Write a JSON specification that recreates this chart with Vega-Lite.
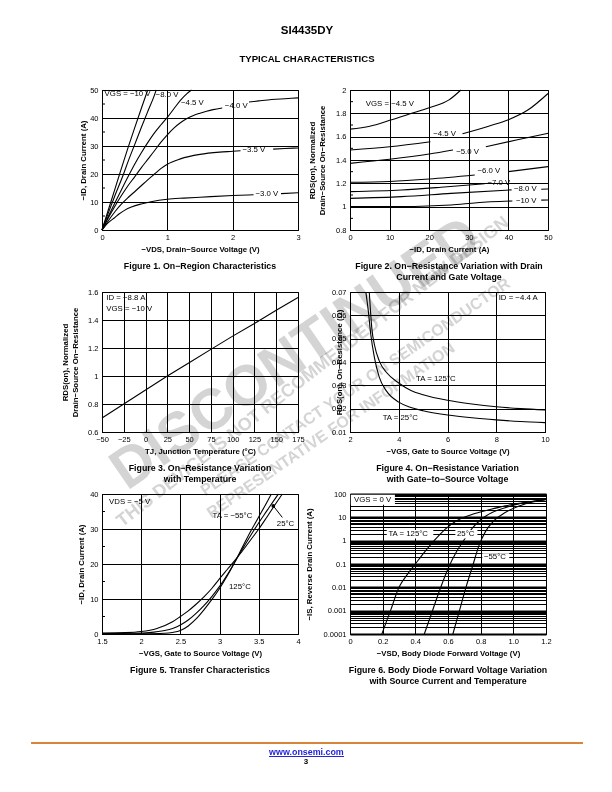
{
"$schema":"https://vega.github.io/schema/vega-lite/v6.json",
"autosize":{"type":"pad"},
"padding":{"left":30,"top":25,"right":0,"bottom":0},
"background":"white",
"title":{"text":"SI4435DY","subtitle":"TYPICAL CHARACTERISTICS","font":"Liberation Sans","fontSize":11.5,"fontWeight":"bold","subtitleFont":"Liberation Sans","subtitleFontSize":9.6,"subtitleFontWeight":"bold","subtitlePadding":17,"anchor":"middle","offset":22,"color":"black","subtitleColor":"black"},
"config":{
 "font":"Liberation Sans",
 "view":{"stroke":"black","strokeWidth":1},
 "axis":{"grid":true,"gridColor":"black","gridOpacity":1,"gridWidth":1,"domain":true,"domainColor":"black","domainWidth":1,"ticks":false,"labelFont":"Liberation Sans","labelFontSize":7.5,"labelColor":"black","labelFlush":false,"labelOverlap":false,"titleFont":"Liberation Sans","titleFontSize":7.8,"titleFontWeight":"bold","titleColor":"black","titleLineHeight":10,"labelExpr":"replace(datum.value + '', '-', '−')"},
 "axisX":{"labelPadding":3,"titlePadding":5,"labelOverlap":false},
 "axisY":{"labelPadding":4,"titlePadding":3,"labelOverlap":false},
 "title":{"font":"Liberation Sans","fontSize":8.8,"fontWeight":"bold","color":"black","lineHeight":11},
 "line":{"color":"black","strokeWidth":1.1,"interpolate":"monotone"},
 "rule":{"color":"black","strokeWidth":1},
 "text":{"font":"Liberation Sans","fontSize":7.8,"color":"black"}
},
"datasets":{
 "f1":[
  {"s":"10","x":0,"y":0},{"s":"10","x":0.1,"y":7.4},{"s":"10","x":0.2,"y":14.8},{"s":"10","x":0.27,"y":20},{"s":"10","x":0.4,"y":29.5},{"s":"10","x":0.5,"y":36.5},{"s":"10","x":0.6,"y":43.3},{"s":"10","x":0.7,"y":50},
  {"s":"8","x":0,"y":0},{"s":"8","x":0.1,"y":6.3},{"s":"8","x":0.2,"y":12.4},{"s":"8","x":0.33,"y":20},{"s":"8","x":0.4,"y":24.5},{"s":"8","x":0.5,"y":30.5},{"s":"8","x":0.6,"y":36.5},{"s":"8","x":0.7,"y":42.3},{"s":"8","x":0.8,"y":48},{"s":"8","x":0.83,"y":50},
  {"s":"4.5","x":0,"y":0},{"s":"4.5","x":0.1,"y":5},{"s":"4.5","x":0.2,"y":9.8},{"s":"4.5","x":0.3,"y":14.5},{"s":"4.5","x":0.42,"y":20},{"s":"4.5","x":0.5,"y":23.5},{"s":"4.5","x":0.6,"y":27.5},{"s":"4.5","x":0.7,"y":31.2},{"s":"4.5","x":0.8,"y":34.6},{"s":"4.5","x":0.9,"y":37.5},{"s":"4.5","x":1.0,"y":40.2},{"s":"4.5","x":1.1,"y":43.3},{"s":"4.5","x":1.2,"y":46.3},{"s":"4.5","x":1.3,"y":48.7},{"s":"4.5","x":1.37,"y":50},
  {"s":"4.0a","x":0,"y":0},{"s":"4.0a","x":0.1,"y":4.5},{"s":"4.0a","x":0.2,"y":8.6},{"s":"4.0a","x":0.3,"y":12.4},{"s":"4.0a","x":0.4,"y":15.9},{"s":"4.0a","x":0.5,"y":19},{"s":"4.0a","x":0.6,"y":22.2},{"s":"4.0a","x":0.7,"y":25.2},{"s":"4.0a","x":0.8,"y":28.2},{"s":"4.0a","x":0.9,"y":31.3},{"s":"4.0a","x":1.0,"y":34},{"s":"4.0a","x":1.1,"y":36.4},{"s":"4.0a","x":1.2,"y":38.3},{"s":"4.0a","x":1.3,"y":39.8},{"s":"4.0a","x":1.4,"y":40.9},{"s":"4.0a","x":1.5,"y":41.7},{"s":"4.0a","x":1.6,"y":42.4},{"s":"4.0a","x":1.7,"y":43},{"s":"4.0a","x":1.84,"y":43.6},
  {"s":"4.0b","x":2.25,"y":45.7},{"s":"4.0b","x":2.4,"y":46.1},{"s":"4.0b","x":2.6,"y":46.6},{"s":"4.0b","x":2.8,"y":46.9},{"s":"4.0b","x":3.0,"y":47.2},
  {"s":"3.5a","x":0,"y":0},{"s":"3.5a","x":0.1,"y":3.4},{"s":"3.5a","x":0.2,"y":6.6},{"s":"3.5a","x":0.3,"y":9.3},{"s":"3.5a","x":0.4,"y":11.6},{"s":"3.5a","x":0.52,"y":14.1},{"s":"3.5a","x":0.6,"y":15.8},{"s":"3.5a","x":0.7,"y":17.9},{"s":"3.5a","x":0.8,"y":19.9},{"s":"3.5a","x":0.9,"y":21.9},{"s":"3.5a","x":1.0,"y":23.5},{"s":"3.5a","x":1.2,"y":25.4},{"s":"3.5a","x":1.5,"y":27},{"s":"3.5a","x":1.8,"y":27.8},{"s":"3.5a","x":2.0,"y":28.1},{"s":"3.5a","x":2.12,"y":28.3},
  {"s":"3.5b","x":2.62,"y":28.9},{"s":"3.5b","x":2.8,"y":29.1},{"s":"3.5b","x":3.0,"y":29.3},
  {"s":"3.0a","x":0,"y":0},{"s":"3.0a","x":0.05,"y":1.5},{"s":"3.0a","x":0.1,"y":2.7},{"s":"3.0a","x":0.2,"y":4.5},{"s":"3.0a","x":0.26,"y":5.7},{"s":"3.0a","x":0.35,"y":7.1},{"s":"3.0a","x":0.45,"y":8.2},{"s":"3.0a","x":0.6,"y":9.3},{"s":"3.0a","x":0.75,"y":10.1},{"s":"3.0a","x":1.0,"y":11},{"s":"3.0a","x":1.25,"y":11.4},{"s":"3.0a","x":1.5,"y":11.7},{"s":"3.0a","x":2.0,"y":12.3},{"s":"3.0a","x":2.32,"y":12.6},
  {"s":"3.0b","x":2.74,"y":13},{"s":"3.0b","x":3.0,"y":13.3}
 ],
 "t1":[
  {"x":0.04,"y":48.5,"t":"VGS = −10 V"},{"x":0.82,"y":48.2,"t":"−8.0 V"},{"x":1.21,"y":45.2,"t":"−4.5 V"},{"x":1.88,"y":44.4,"t":"−4.0 V"},{"x":2.15,"y":28.6,"t":"−3.5 V"},{"x":2.35,"y":12.9,"t":"−3.0 V"}
 ],
 "m1":[{"x":0,"x2":0.046,"y":5},{"x":0,"x2":0.046,"y":15},{"x":0,"x2":0.046,"y":25},{"x":0,"x2":0.046,"y":35},{"x":0,"x2":0.046,"y":45}],
 "f2":[
  {"s":"a","x":0,"y":1.665},{"s":"a","x":5,"y":1.69},{"s":"a","x":10,"y":1.74},{"s":"a","x":15,"y":1.795},{"s":"a","x":20,"y":1.848},{"s":"a","x":25,"y":1.915},{"s":"a","x":28,"y":2.0},
  {"s":"b1","x":0,"y":1.486},{"s":"b1","x":10,"y":1.514},{"s":"b1","x":20.3,"y":1.557},
  {"s":"b2","x":28.4,"y":1.625},{"s":"b2","x":35,"y":1.69},{"s":"b2","x":40,"y":1.745},{"s":"b2","x":45,"y":1.83},{"s":"b2","x":50,"y":1.97},
  {"s":"c1","x":0,"y":1.371},{"s":"c1","x":10,"y":1.406},{"s":"c1","x":20,"y":1.451},{"s":"c1","x":26,"y":1.486},
  {"s":"c2","x":34.3,"y":1.514},{"s":"c2","x":42,"y":1.571},{"s":"c2","x":50,"y":1.629},
  {"s":"d1","x":0,"y":1.209},{"s":"d1","x":10,"y":1.216},{"s":"d1","x":20,"y":1.237},{"s":"d1","x":31.5,"y":1.271},
  {"s":"d2","x":40,"y":1.3},{"s":"d2","x":50,"y":1.343},
  {"s":"e1","x":0,"y":1.129},{"s":"e1","x":13,"y":1.143},{"s":"e1","x":23,"y":1.166},{"s":"e1","x":34,"y":1.196},
  {"s":"g1","x":0,"y":1.071},{"s":"g1","x":13,"y":1.086},{"s":"g1","x":25.5,"y":1.114},{"s":"g1","x":40.8,"y":1.144},
  {"s":"g2","x":48.3,"y":1.149},{"s":"g2","x":50,"y":1.151},
  {"s":"h1","x":0,"y":1.0},{"s":"h1","x":13,"y":1.001},{"s":"h1","x":25.5,"y":1.014},{"s":"h1","x":32,"y":1.034},{"s":"h1","x":41,"y":1.049},
  {"s":"h2","x":48.3,"y":1.056},{"s":"h2","x":50,"y":1.057}
 ],
 "t2":[
  {"x":4.0,"y":1.88,"t":"VGS = −4.5 V"},{"x":21.0,"y":1.623,"t":"−4.5 V"},{"x":26.8,"y":1.471,"t":"−5.0 V"},{"x":32.2,"y":1.309,"t":"−6.0 V"},{"x":34.7,"y":1.206,"t":"−7.0 V"},{"x":41.4,"y":1.149,"t":"−8.0 V"},{"x":41.9,"y":1.051,"t":"−10 V"}
 ],
 "m2":[{"x":0,"x2":0.76,"y":0.9},{"x":0,"x2":0.76,"y":1.1},{"x":0,"x2":0.76,"y":1.3},{"x":0,"x2":0.76,"y":1.5},{"x":0,"x2":0.76,"y":1.7},{"x":0,"x2":0.76,"y":1.9}],
 "f3":[
  {"x":-50,"y":0.70},{"x":-25,"y":0.80},{"x":0,"y":0.90},{"x":25,"y":1.0},{"x":50,"y":1.095},{"x":75,"y":1.19},{"x":100,"y":1.285},{"x":125,"y":1.375},{"x":150,"y":1.47},{"x":175,"y":1.56}
 ],
 "t3":[{"x":-45,"y":1.555,"t":"ID = −8.8 A"},{"x":-45,"y":1.48,"t":"VGS = −10 V"}],
 "m3":[{"x":-45},{"x":-40},{"x":-35},{"x":-30},{"x":-20},{"x":-15},{"x":-10},{"x":-5},{"x":5},{"x":10},{"x":15},{"x":20},{"x":30},{"x":35},{"x":40},{"x":45},{"x":55},{"x":60},{"x":65},{"x":70},{"x":80},{"x":85},{"x":90},{"x":95},{"x":105},{"x":110},{"x":115},{"x":120},{"x":130},{"x":135},{"x":140},{"x":145},{"x":155},{"x":160},{"x":165},{"x":170}],
 "f4":[
  {"s":"25","x":2.65,"y":0.07},{"s":"25","x":2.75,"y":0.062},{"s":"25","x":2.85,"y":0.052},{"s":"25","x":3.0,"y":0.042},{"s":"25","x":3.2,"y":0.0335},{"s":"25","x":3.5,"y":0.0275},{"s":"25","x":4.0,"y":0.0228},{"s":"25","x":4.5,"y":0.0205},{"s":"25","x":5.0,"y":0.0191},{"s":"25","x":6.0,"y":0.0173},{"s":"25","x":7.0,"y":0.0161},{"s":"25","x":8.0,"y":0.0152},{"s":"25","x":9.0,"y":0.0145},{"s":"25","x":10.0,"y":0.014},
  {"s":"125","x":2.79,"y":0.07},{"s":"125","x":2.84,"y":0.062},{"s":"125","x":2.9,"y":0.054},{"s":"125","x":3.0,"y":0.0475},{"s":"125","x":3.2,"y":0.0405},{"s":"125","x":3.5,"y":0.0355},{"s":"125","x":4.0,"y":0.031},{"s":"125","x":4.5,"y":0.0278},{"s":"125","x":5.0,"y":0.026},{"s":"125","x":6.0,"y":0.0236},{"s":"125","x":7.0,"y":0.022},{"s":"125","x":8.0,"y":0.0208},{"s":"125","x":9.0,"y":0.02},{"s":"125","x":10.0,"y":0.0194}
 ],
 "t4":[{"x":8.1,"y":0.0675,"t":"ID = −4.4 A"},{"x":4.71,"y":0.0326,"t":"TA = 125°C"},{"x":3.34,"y":0.0159,"t":"TA = 25°C"}],
 "f5":[
  {"s":"125","x":1.5,"y":0.3},{"s":"125","x":1.8,"y":0.4},{"s":"125","x":2.0,"y":0.7},{"s":"125","x":2.2,"y":1.6},{"s":"125","x":2.4,"y":3.5},{"s":"125","x":2.5,"y":5.0},{"s":"125","x":2.6,"y":6.6},{"s":"125","x":2.7,"y":8.5},{"s":"125","x":2.8,"y":10.6},{"s":"125","x":2.9,"y":13},{"s":"125","x":3.0,"y":15.8},{"s":"125","x":3.1,"y":18.5},{"s":"125","x":3.2,"y":21.2},{"s":"125","x":3.3,"y":24},{"s":"125","x":3.4,"y":27},{"s":"125","x":3.5,"y":30},{"s":"125","x":3.6,"y":33.3},{"s":"125","x":3.7,"y":36.7},{"s":"125","x":3.8,"y":40},
  {"s":"25","x":1.5,"y":0.1},{"s":"25","x":1.9,"y":0.2},{"s":"25","x":2.1,"y":0.4},{"s":"25","x":2.3,"y":1.0},{"s":"25","x":2.4,"y":1.6},{"s":"25","x":2.5,"y":2.6},{"s":"25","x":2.6,"y":4.0},{"s":"25","x":2.7,"y":5.9},{"s":"25","x":2.8,"y":8.1},{"s":"25","x":2.9,"y":10.7},{"s":"25","x":3.0,"y":13.6},{"s":"25","x":3.1,"y":17},{"s":"25","x":3.2,"y":20.8},{"s":"25","x":3.3,"y":24.6},{"s":"25","x":3.4,"y":28.3},{"s":"25","x":3.5,"y":31.8},{"s":"25","x":3.6,"y":35.1},{"s":"25","x":3.7,"y":38.4},{"s":"25","x":3.75,"y":40},
  {"s":"-55","x":1.5,"y":0},{"s":"-55","x":2.0,"y":0.05},{"s":"-55","x":2.3,"y":0.2},{"s":"-55","x":2.4,"y":0.45},{"s":"-55","x":2.5,"y":1.0},{"s":"-55","x":2.6,"y":2.3},{"s":"-55","x":2.7,"y":4.3},{"s":"-55","x":2.8,"y":6.9},{"s":"-55","x":2.9,"y":9.8},{"s":"-55","x":3.0,"y":13.0},{"s":"-55","x":3.1,"y":16.7},{"s":"-55","x":3.2,"y":20.8},{"s":"-55","x":3.3,"y":25.2},{"s":"-55","x":3.4,"y":29.5},{"s":"-55","x":3.5,"y":33.5},{"s":"-55","x":3.6,"y":37.5},{"s":"-55","x":3.66,"y":40}
 ],
 "t5":[{"x":1.59,"y":37.8,"t":"VDS = −5 V"},{"x":2.91,"y":33.8,"t":"TA = −55°C"},{"x":3.73,"y":31.3,"t":"25°C"},{"x":3.12,"y":13.5,"t":"125°C"}],
 "a5":[{"s":"a","x":3.685,"y":36.6},{"s":"a","x":3.8,"y":33.3}],
 "p5":[{"x":3.685,"y":36.6}],
 "m5":[{"x":1.5,"x2":1.538,"y":5},{"x":1.5,"x2":1.538,"y":15},{"x":1.5,"x2":1.538,"y":25},{"x":1.5,"x2":1.538,"y":35}],
 "f6":[
  {"s":"125","x":0.195,"y":0.0001},{"s":"125","x":0.248,"y":0.001},{"s":"125","x":0.3,"y":0.01},{"s":"125","x":0.35,"y":0.035},{"s":"125","x":0.4,"y":0.1},{"s":"125","x":0.46,"y":0.35},{"s":"125","x":0.515,"y":1.0},{"s":"125","x":0.58,"y":3.0},{"s":"125","x":0.65,"y":7.0},{"s":"125","x":0.75,"y":13.5},{"s":"125","x":0.85,"y":21},{"s":"125","x":0.95,"y":31},{"s":"125","x":1.05,"y":41},{"s":"125","x":1.15,"y":52},{"s":"125","x":1.2,"y":58},
  {"s":"25","x":0.455,"y":0.0001},{"s":"25","x":0.5,"y":0.00079},{"s":"25","x":0.55,"y":0.0079},{"s":"25","x":0.6,"y":0.063},{"s":"25","x":0.65,"y":0.32},{"s":"25","x":0.7,"y":1.12},{"s":"25","x":0.75,"y":3.5},{"s":"25","x":0.8,"y":7.9},{"s":"25","x":0.87,"y":16},{"s":"25","x":0.95,"y":26},{"s":"25","x":1.05,"y":40},{"s":"25","x":1.15,"y":52},{"s":"25","x":1.2,"y":58},
  {"s":"-55","x":0.63,"y":0.0001},{"s":"-55","x":0.67,"y":0.001},{"s":"-55","x":0.71,"y":0.01},{"s":"-55","x":0.75,"y":0.079},{"s":"-55","x":0.79,"y":0.63},{"s":"-55","x":0.83,"y":2.5},{"s":"-55","x":0.88,"y":7.1},{"s":"-55","x":0.95,"y":16},{"s":"-55","x":1.02,"y":28},{"s":"-55","x":1.1,"y":42},{"s":"-55","x":1.2,"y":58}
 ],
 "b6":[{"x":0.005,"x2":0.275,"y":35,"y2":92},{"x":0.225,"x2":0.51,"y":1.25,"y2":2.9},{"x":0.645,"x2":0.78,"y":1.25,"y2":2.9},{"x":0.81,"x2":0.975,"y":0.125,"y2":0.29}],
 "t6":[{"x":0.025,"y":55,"t":"VGS = 0 V"},{"x":0.235,"y":1.9,"t":"TA = 125°C"},{"x":0.655,"y":1.9,"t":"25°C"},{"x":0.82,"y":0.19,"t":"−55°C"}],
 "fl":[{"x":-0.362,"x2":2.454,"y":0.2985}],
 "fu":[{"x":0.852,"x2":1.235,"y":0.097}],
 "ft":[{"x":1.043,"y":0.164,"t":"www.onsemi.com"}],
 "fn":[{"x":1.041,"y":0.015,"t":"3"}],
 "wbig":[{"x":0.99,"y":6.1,"t":"DISCONTINUED"}],
 "wa":[{"x":1.077,"y":5.836,"t":"THIS DEVICE IS NOT RECOMMENDED FOR NEW DESIGN"}],
 "wb":[{"x":1.293,"y":5.612,"t":"PLEASE CONTACT YOUR ON SEMICONDUCTOR"},{"x":1.168,"y":4.963,"t":"REPRESENTATIVE FOR INFORMATION"}]
},
"bounds":"flush",
"columns":2,
"spacing":{"row":62,"column":52},
"concat":[
  {"width":196,"height":140,
   "title":{"text":"Figure 1. On−Region Characteristics","orient":"bottom","offset":9},
   "encoding":{
      "x":{"field":"x","type":"quantitative","scale":{"domain":[0,3],"nice":false},"axis":{"values":[0,1,2,3],"title":"−VDS, Drain−Source Voltage (V)"}},
      "y":{"field":"y","type":"quantitative","scale":{"domain":[0,50],"nice":false},"axis":{"values":[0,10,20,30,40,50],"title":"−ID, Drain Current (A)","titlePadding":2}}},
   "layer":[
    {"data":{"name":"f1"},"mark":{"type":"line"},"encoding":{"detail":{"field":"s","type":"nominal"}}},
    {"data":{"name":"m1"},"mark":{"type":"rule"},"encoding":{"x2":{"field":"x2"}}},
    {"data":{"name":"t1"},"mark":{"type":"text","align":"left","baseline":"middle"},"encoding":{"text":{"field":"t","type":"nominal"}}}
   ]},
  {"width":198,"height":140,
   "title":{"text":["Figure 2. On−Resistance Variation with Drain","Current and Gate Voltage"],"orient":"bottom","offset":9},
   "encoding":{
      "x":{"field":"x","type":"quantitative","scale":{"domain":[0,50],"nice":false},"axis":{"values":[0,10,20,30,40,50],"title":"−ID, Drain Current (A)"}},
      "y":{"field":"y","type":"quantitative","scale":{"domain":[0.8,2],"nice":false,"zero":false},"axis":{"values":[0.8,1,1.2,1.4,1.6,1.8,2],"title":["RDS(on), Normalized","Drain−Source On−Resistance"],"titlePadding":9}}},
   "layer":[
    {"data":{"name":"f2"},"mark":{"type":"line"},"encoding":{"detail":{"field":"s","type":"nominal"}}},
    {"data":{"name":"m2"},"mark":{"type":"rule"},"encoding":{"x2":{"field":"x2"}}},
    {"data":{"name":"t2"},"mark":{"type":"text","align":"left","baseline":"middle"},"encoding":{"text":{"field":"t","type":"nominal"}}}
   ]},
  {"width":196,"height":140,
   "title":{"text":["Figure 3. On−Resistance Variation","with Temperature"],"orient":"bottom","offset":9},
   "encoding":{
      "x":{"field":"x","type":"quantitative","scale":{"domain":[-50,175],"nice":false},"axis":{"values":[-50,-25,0,25,50,75,100,125,150,175],"title":"TJ, Junction Temperature (°C)"}},
      "y":{"field":"y","type":"quantitative","scale":{"domain":[0.6,1.6],"nice":false,"zero":false},"axis":{"values":[0.6,0.8,1,1.2,1.4,1.6],"title":["RDS(on), Normalized","Drain−Source On−Resistance"],"titlePadding":8}}},
   "layer":[
    {"data":{"name":"f3"},"mark":{"type":"line","interpolate":"linear"}},
    {"data":{"name":"m3"},"mark":{"type":"rule"},"encoding":{"y":{"datum":0.6},"y2":{"datum":0.622}}},
    {"data":{"name":"t3"},"mark":{"type":"text","align":"left","baseline":"middle"},"encoding":{"text":{"field":"t","type":"nominal"}}}
   ]},
  {"width":195,"height":140,
   "title":{"text":["Figure 4. On−Resistance Variation","with Gate−to−Source Voltage"],"orient":"bottom","offset":9},
   "encoding":{
      "x":{"field":"x","type":"quantitative","scale":{"domain":[2,10],"nice":false,"zero":false},"axis":{"values":[2,4,6,8,10],"title":"−VGS, Gate to Source Voltage (V)"}},
      "y":{"field":"y","type":"quantitative","scale":{"domain":[0.01,0.07],"nice":false,"zero":false},"axis":{"values":[0.01,0.02,0.03,0.04,0.05,0.06,0.07],"title":"RDS(on), On−Resistance (Ω)","titlePadding":-12}}},
   "layer":[
    {"data":{"name":"f4"},"mark":{"type":"line"},"encoding":{"detail":{"field":"s","type":"nominal"}}},
    {"data":{"name":"t4"},"mark":{"type":"text","align":"left","baseline":"middle"},"encoding":{"text":{"field":"t","type":"nominal"}}}
   ]},
  {"width":196,"height":140,
   "title":{"text":"Figure 5. Transfer Characteristics","orient":"bottom","offset":9},
   "encoding":{
      "x":{"field":"x","type":"quantitative","scale":{"domain":[1.5,4],"nice":false,"zero":false},"axis":{"values":[1.5,2,2.5,3,3.5,4],"title":"−VGS, Gate to Source Voltage (V)"}},
      "y":{"field":"y","type":"quantitative","scale":{"domain":[0,40],"nice":false},"axis":{"values":[0,10,20,30,40],"title":"−ID, Drain Current (A)","titlePadding":4}}},
   "layer":[
    {"data":{"name":"f5"},"mark":{"type":"line"},"encoding":{"detail":{"field":"s","type":"nominal"}}},
    {"data":{"name":"a5"},"mark":{"type":"line","interpolate":"linear","strokeWidth":1},"encoding":{"detail":{"field":"s","type":"nominal"}}},
    {"data":{"name":"p5"},"mark":{"type":"point","filled":true,"color":"black","size":14,"opacity":1}},
    {"data":{"name":"m5"},"mark":{"type":"rule"},"encoding":{"x2":{"field":"x2"}}},
    {"data":{"name":"t5"},"mark":{"type":"text","align":"left","baseline":"middle"},"encoding":{"text":{"field":"t","type":"nominal"}}}
   ]},
  {"width":196,"height":140,
   "title":{"text":["Figure 6. Body Diode Forward Voltage Variation","with Source Current and Temperature"],"orient":"bottom","offset":9},
   "encoding":{
      "x":{"field":"x","type":"quantitative","scale":{"domain":[0,1.2],"nice":false},"axis":{"values":[0,0.2,0.4,0.6,0.8,1,1.2],"labelExpr":"datum.value == 0 ? '0' : format(datum.value, '.1f')","title":"−VSD, Body Diode Forward Voltage (V)"}},
      "y":{"field":"y","type":"quantitative","scale":{"type":"log","domain":[0.0001,100],"nice":false},"axis":{"values":[0.0001,0.0002,0.0003,0.0004,0.0005,0.0006,0.0007,0.0008,0.0009,0.001,0.002,0.003,0.004,0.005,0.006,0.007,0.008,0.009,0.01,0.02,0.03,0.04,0.05,0.06,0.07,0.08,0.09,0.1,0.2,0.3,0.4,0.5,0.6,0.7,0.8,0.9,1,2,3,4,5,6,7,8,9,10,20,30,40,50,60,70,80,90,100],"labelExpr":"abs(log(datum.value)/LN10 - round(log(datum.value)/LN10)) < 0.01 ? datum.value + '' : ''","gridWidth":{"condition":{"test":"abs(log(datum.value)/LN10 - round(log(datum.value)/LN10)) < 0.01","value":2},"value":1},"title":"−IS, Reverse Drain Current (A)","titlePadding":10}}},
   "layer":[
    {"data":{"name":"f6"},"mark":{"type":"line"},"encoding":{"detail":{"field":"s","type":"nominal"}}},
    {"data":{"name":"b6"},"mark":{"type":"rect","color":"white","opacity":1},"encoding":{"x2":{"field":"x2"},"y2":{"field":"y2"}}},
    {"data":{"name":"t6"},"mark":{"type":"text","align":"left","baseline":"middle"},"encoding":{"text":{"field":"t","type":"nominal"}}}
   ]},
  {"width":196,"height":67,"view":{"stroke":null},
   "encoding":{
      "x":{"field":"x","type":"quantitative","scale":{"domain":[0,1],"nice":false},"axis":null},
      "y":{"field":"y","type":"quantitative","scale":{"domain":[0,1],"nice":false},"axis":null}},
   "layer":[
    {"data":{"name":"fl"},"mark":{"type":"rule","color":"#d8843a","strokeWidth":2},"encoding":{"x2":{"field":"x2"}}},
    {"data":{"name":"fu"},"mark":{"type":"rule","color":"#2424d8","strokeWidth":1},"encoding":{"x2":{"field":"x2"}}},
    {"data":{"name":"ft"},"mark":{"type":"text","fontSize":8.9,"fontWeight":"bold","color":"#2424d8","baseline":"middle"},"encoding":{"text":{"field":"t","type":"nominal"}}},
    {"data":{"name":"fn"},"mark":{"type":"text","fontSize":8,"fontWeight":"bold","color":"black","baseline":"middle"},"encoding":{"text":{"field":"t","type":"nominal"}}},
    {"data":{"name":"wbig"},"mark":{"type":"text","align":"center","baseline":"middle","angle":-34.5,"fontSize":57,"fontWeight":"bold","color":"#d4d4d4","blend":"multiply"},"encoding":{"text":{"field":"t","type":"nominal"}}},
    {"data":{"name":"wa"},"mark":{"type":"text","align":"center","baseline":"middle","angle":-38,"fontSize":18,"fontWeight":"bold","color":"#d4d4d4","blend":"multiply"},"encoding":{"text":{"field":"t","type":"nominal"}}},
    {"data":{"name":"wb"},"mark":{"type":"text","align":"center","baseline":"middle","angle":-34.5,"fontSize":16,"fontWeight":"bold","color":"#d4d4d4","blend":"multiply"},"encoding":{"text":{"field":"t","type":"nominal"}}}
   ]}
]
}
